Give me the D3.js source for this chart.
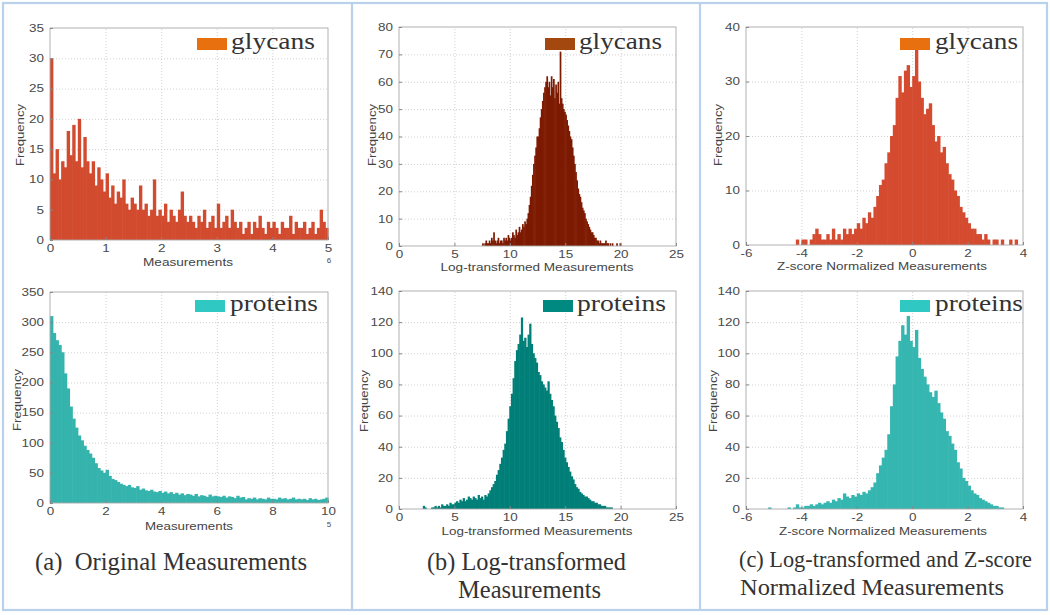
<!DOCTYPE html>
<html><head><meta charset="utf-8">
<script src="https://cdn.jsdelivr.net/npm/d3@7"></script>
<style>body{margin:0;background:#fff} svg{display:block}</style>
</head><body><svg id="c" width="1050" height="615"></svg>
<script>
// ---------------- DATA ----------------
// (a) Original measurements — glycans (x in units of 1e6), bins start 0, width 0.05
const glycansOriginalStart = 0, glycansOriginalStep = 0.05;
const glycansOriginal = [30,11,15,10,13,12,18,14,19,13,
 20,12,17,13,11,13,9,12,10,8,
 11,7,9,6,8,7,10,6,5,7,
 6,5,9,5,6,4,5,10,4,5,
 4,6,3,5,4,3,5,8,4,3,
 4,3,2,4,3,5,2,3,4,2,
 6,2,3,4,2,5,3,2,3,1,
 2,3,1,3,2,4,2,1,3,2,
 3,2,1,3,2,2,4,1,3,2,
 2,3,1,2,3,1,2,5,3,2];
// (a) Original measurements — proteins (x in units of 1e5), bins start 0, width 0.1
const proteinsOriginalStart = 0, proteinsOriginalStep = 0.1;
const proteinsOriginal = [310,282,270,262,250,215,190,160,140,125,
 112,104,95,88,82,75,66,58,54,50,
 55,45,40,38,35,32,30,28,30,26,
 25,28,22,24,21,20,22,19,18,20,
 17,19,16,18,15,17,14,16,13,15,
 14,12,15,11,13,12,10,14,11,12,
 11,10,12,9,11,10,8,12,9,10,
 6,8,7,9,6,8,7,6,9,7,
 7,6,9,7,8,6,7,9,6,7,
 6,7,5,8,6,7,5,6,7,9];
// (b) Log-transformed — glycans, bins start 7.5, width 0.1
const glycansLogStart = 7.5, glycansLogStep = 0.1;
const glycansLog = [1,0,1,2,1,1,2,1,3,2,
 5,2,1,2,3,1,2,2,1,3,
 2,3,2,4,3,2,3,5,4,3,
 6,4,5,7,5,6,8,7,9,8,
 10,12,15,18,22,26,30,33,36,40,
 40,43,47,50,53,56,58,60,62,58,
 60,55,62,58,61,54,59,56,60,52,
 71,54,52,50,49,48,46,44,42,40,
 39,36,33,30,27,24,21,19,18,16,
 14,13,12,10,9,8,7,6,5,5,
 4,3,3,2,2,1,2,1,1,1,
 1,2,1,1,0,1,0,1,0,0,
 0,1,0,0,1];
// (b) Log-transformed — proteins, bins start 2.0, width 0.15
const proteinsLogStart = 2.0, proteinsLogStep = 0.15;
const proteinsLog = [0,2,1,0,0,0,1,1,2,1,
 2,1,3,2,2,3,2,4,3,3,
 4,5,4,6,5,7,5,6,8,7,
 6,8,7,6,9,7,8,6,9,8,
 10,12,14,16,18,22,25,29,33,38,
 42,50,58,66,74,84,95,102,106,112,
 123,108,110,104,112,119,106,100,97,94,
 88,86,82,80,78,76,82,74,70,66,
 60,56,52,46,43,38,33,30,27,24,
 21,19,16,14,13,11,10,9,8,8,
 7,6,5,5,4,4,3,3,2,2,
 2,1,1,1,1,0,0];
// (c) Z-score normalized — glycans, bins start -4.2, width 0.1
const glycansZStart = -4.2, glycansZStep = 0.1;
const glycansZ = [1,0,1,1,0,1,2,3,2,1,
 1,2,1,3,1,2,1,3,2,3,
 2,3,4,3,5,4,6,5,7,9,
 11,12,15,17,20,22,27,31,28,32,
 33,29,31,36,30,27,24,25,26,22,
 19,20,17,18,15,13,12,10,9,7,
 6,5,4,3,3,2,2,1,2,1,
 0,1,1,0,1,0,0,1,0,1];
// (c) Z-score normalized — proteins, bins start -5.2, width 0.1
const proteinsZStart = -5.2, proteinsZStep = 0.1;
const proteinsZ = [1,0,0,0,0,0,0,1,0,1,
 3,1,1,2,2,3,2,3,4,3,
 4,5,4,6,5,7,6,10,8,7,
 9,8,10,9,11,10,12,14,17,23,
 28,33,38,48,66,80,98,108,118,112,
 124,108,104,115,97,90,85,80,75,72,
 76,68,62,58,50,47,42,38,30,26,
 20,18,15,12,10,9,7,6,5,4,
 3,2,2,1,1];

// tick values
const xTicksOrigGly = [0,1,2,3,4,5];
const xTicksOrigPro = [0,2,4,6,8,10];
const xTicksLog = [0,5,10,15,20,25];
const xTicksZ = [-6,-4,-2,0,2,4];
const yTicksOrigGly = [0,5,10,15,20,25,30,35];
const yTicksOrigPro = [0,50,100,150,200,250,300,350];
const yTicksLogGly = [0,10,20,30,40,50,60,70,80];
const yTicksPro = [0,20,40,60,80,100,120,140];
const yTicksZGly = [0,10,20,30,40];

// ---------------- DRAWING ----------------
const svg = d3.select("#c");

function stretch(sel, k) {
  sel.each(function () {
    const w = this.getComputedTextLength();
    d3.select(this).attr("textLength", w * k).attr("lengthAdjust", "spacingAndGlyphs");
  });
}
function fitWidth(sel, w) {
  sel.attr("textLength", w).attr("lengthAdjust", "spacingAndGlyphs");
}

const panels = [
  {values: glycansOriginal, start: glycansOriginalStart, step: glycansOriginalStep,
   left: 50, right: 328, top: 28, bottom: 240, xTicks: xTicksOrigGly, yTicks: yTicksOrigGly,
   bar: "#d24b2f", swatch: "#e8700e", name: "glycans",
   lx: 197, ly: 38, tx: 231, tb: 49, tw: 84,
   xlabel: "Measurements", xlc: 188, xlb: 266, xlw: 90, ylx: 24, ylc: 135, exp: "6", expY: 263},
  {values: proteinsOriginal, start: proteinsOriginalStart, step: proteinsOriginalStep,
   left: 50, right: 328, top: 292, bottom: 503, xTicks: xTicksOrigPro, yTicks: yTicksOrigPro,
   bar: "#35b3ad", swatch: "#2fc8c2", name: "proteins",
   lx: 195, ly: 300, tx: 230, tb: 311, tw: 88,
   xlabel: "Measurements", xlc: 189, xlb: 530, xlw: 88, ylx: 21, ylc: 400, exp: "5", expY: 527},
  {values: glycansLog, start: glycansLogStart, step: glycansLogStep,
   left: 399, right: 676, top: 27, bottom: 246, xTicks: xTicksLog, yTicks: yTicksLogGly,
   bar: "#7d1a02", swatch: "#a3480e", name: "glycans",
   lx: 545, ly: 38, tx: 579, tb: 49, tw: 83,
   xlabel: "Log-transformed Measurements", xlc: 537, xlb: 271, xlw: 193, ylx: 376, ylc: 135},
  {values: proteinsLog, start: proteinsLogStart, step: proteinsLogStep,
   left: 399, right: 676, top: 291, bottom: 509, xTicks: xTicksLog, yTicks: yTicksPro,
   bar: "#007f78", swatch: "#008980", name: "proteins",
   lx: 543, ly: 300, tx: 577, tb: 311, tw: 89,
   xlabel: "Log-transformed Measurements", xlc: 537, xlb: 535, xlw: 191, ylx: 368, ylc: 401},
  {values: glycansZ, start: glycansZStart, step: glycansZStep,
   left: 746, right: 1023, top: 27, bottom: 245, xTicks: xTicksZ, yTicks: yTicksZGly,
   bar: "#d44b30", swatch: "#e8700e", name: "glycans",
   lx: 900, ly: 38, tx: 935, tb: 49, tw: 83,
   xlabel: "Z-score Normalized Measurements", xlc: 882, xlb: 270, xlw: 210, ylx: 722, ylc: 135},
  {values: proteinsZ, start: proteinsZStart, step: proteinsZStep,
   left: 746, right: 1023, top: 291, bottom: 509, xTicks: xTicksZ, yTicks: yTicksPro,
   bar: "#36b6b0", swatch: "#2fc8c2", name: "proteins",
   lx: 900, ly: 300, tx: 935, tb: 311, tw: 88,
   xlabel: "Z-score Normalized Measurements", xlc: 883, xlb: 535, xlw: 208, ylx: 717, ylc: 401}
];

panels.forEach(p => {
  const x = d3.scaleLinear().domain(d3.extent(p.xTicks)).range([p.left, p.right]);
  const y = d3.scaleLinear().domain(d3.extent(p.yTicks)).range([p.bottom, p.top]);
  const g = svg.append("g");
  const h = p.bottom - p.top, w = p.right - p.left;

  // grid
  const gx = g.append("g").attr("transform", `translate(0,${p.bottom})`)
    .call(d3.axisBottom(x).tickValues(p.xTicks.slice(1, -1)).tickSize(-h).tickFormat(""));
  const gy = g.append("g").attr("transform", `translate(${p.left},0)`)
    .call(d3.axisLeft(y).tickValues(p.yTicks.slice(1, -1)).tickSize(-w).tickFormat(""));
  [gx, gy].forEach(a => {
    a.select(".domain").remove();
    a.selectAll("line").attr("stroke", "#c4c4c4").attr("stroke-width", 0.8).attr("stroke-dasharray", "1,2");
  });

  // bars
  const bw = x(p.start + p.step) - x(p.start);
  g.append("g").selectAll("rect").data(p.values).join("rect")
    .attr("x", (d, i) => x(p.start + i * p.step))
    .attr("width", bw + 0.6)
    .attr("y", d => y(d))
    .attr("height", d => y(0) - y(d))
    .attr("fill", p.bar);

  // frame
  g.append("rect").attr("x", p.left).attr("y", p.top).attr("width", w).attr("height", h)
    .attr("fill", "none").attr("stroke", "#a8a8a8").attr("stroke-width", 0.9);

  // tick labels
  const fmt = d => String(d);
  const ax = g.append("g").attr("transform", `translate(0,${p.bottom})`)
    .call(d3.axisBottom(x).tickValues(p.xTicks).tickSize(3).tickPadding(2).tickFormat(fmt));
  const ay = g.append("g").attr("transform", `translate(${p.left},0)`)
    .call(d3.axisLeft(y).tickValues(p.yTicks).tickSize(3).tickPadding(3).tickFormat(fmt));
  ax.selectAll("line").attr("y2", -3).attr("stroke", "#888");
  ay.selectAll("line").attr("x2", 3).attr("stroke", "#888");
  [ax, ay].forEach(a => {
    a.select(".domain").remove();
    a.selectAll("text").attr("font-family", "Liberation Sans, Arial, sans-serif")
      .attr("font-size", 10.5).attr("fill", "#4a4a4a").call(stretch, 1.28);
  });

  if (p.exp) {
    g.append("text").attr("x", p.right + 1).attr("y", p.expY).attr("text-anchor", "middle")
      .attr("font-family", "Liberation Sans, Arial, sans-serif").attr("font-size", 8)
      .attr("fill", "#4a4a4a").text(p.exp);
  }

  // legend
  g.append("rect").attr("x", p.lx).attr("y", p.ly).attr("width", 30).attr("height", 12)
    .attr("fill", p.swatch);
  g.append("text").attr("x", p.tx).attr("y", p.tb)
    .attr("font-family", "Liberation Serif, Times New Roman, serif").attr("font-size", 23)
    .attr("fill", "#333").text(p.name).call(fitWidth, p.tw);

  // axis labels
  g.append("text").attr("x", p.xlc - p.xlw / 2).attr("y", p.xlb)
    .attr("font-family", "Liberation Sans, Arial, sans-serif").attr("font-size", 10.5)
    .attr("fill", "#444").text(p.xlabel).call(fitWidth, p.xlw);
  g.append("text").attr("transform", `translate(${p.ylx},${p.ylc}) rotate(-90)`)
    .attr("text-anchor", "middle")
    .attr("font-family", "Liberation Sans, Arial, sans-serif").attr("font-size", 10.5)
    .attr("fill", "#444").text("Frequency").call(fitWidth, 62);
});

// captions
const cap = (t, x0, base, wd, fs) => svg.append("text").attr("x", x0).attr("y", base)
  .attr("font-family", "Liberation Serif, Times New Roman, serif").attr("font-size", fs)
  .attr("fill", "#333").style("white-space", "pre").text(t).call(fitWidth, wd);
cap("(a)  Original Measurements", 35, 570, 272, 24.5);
cap("(b) Log-transformed", 427, 570, 199, 24.5);
cap("Measurements", 458, 598, 143, 24.5);
cap("(c) Log-transformed and Z-score", 739, 567, 293, 23);
cap("Normalized Measurements", 740, 595, 264, 24);

// panel borders
const bc = "#b9d1ea";
svg.append("rect").attr("x", 3).attr("y", 3).attr("width", 1044).attr("height", 607)
  .attr("fill", "none").attr("stroke", bc).attr("stroke-width", 2.2);
[352, 700].forEach(xv => svg.append("line").attr("x1", xv).attr("x2", xv).attr("y1", 3).attr("y2", 610)
  .attr("stroke", bc).attr("stroke-width", 2.2));
</script></body></html>
